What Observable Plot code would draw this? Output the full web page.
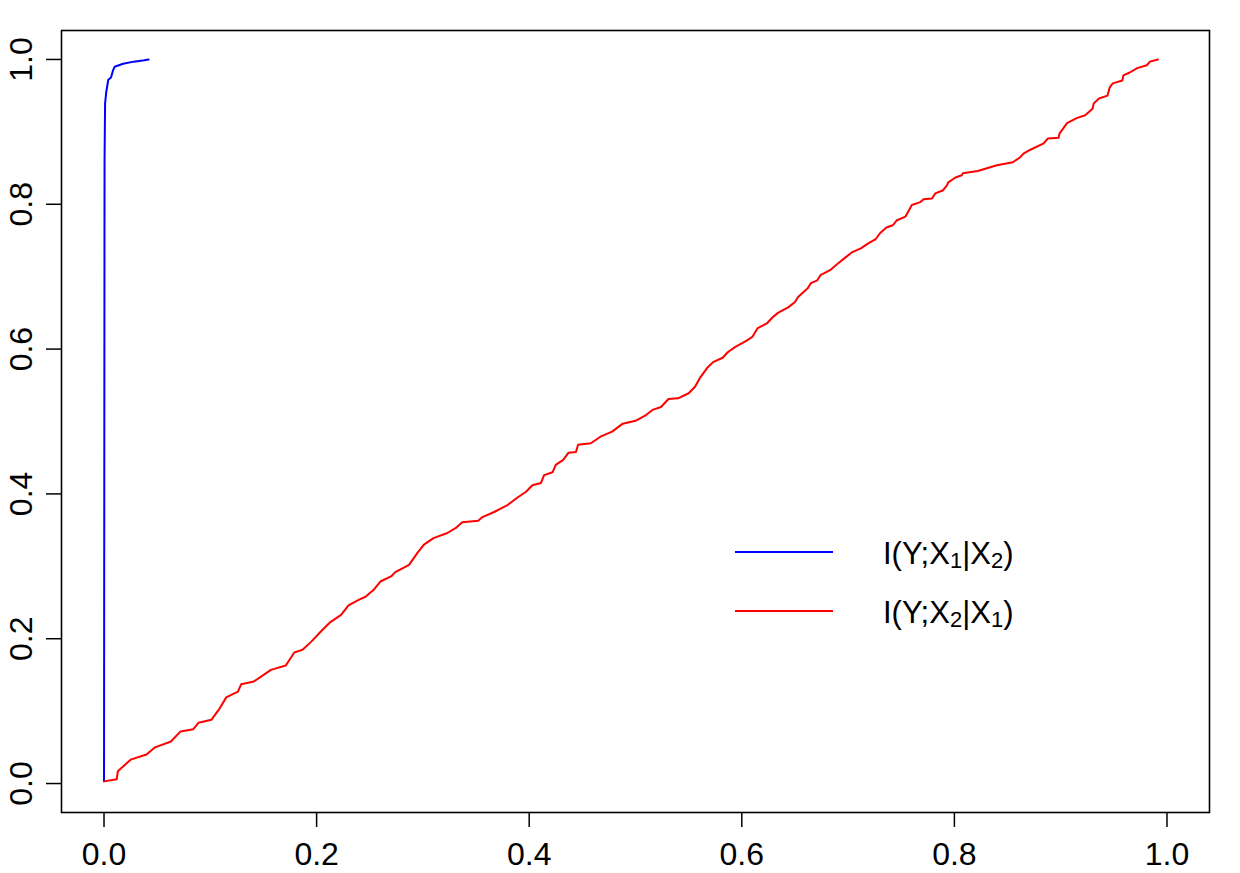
<!DOCTYPE html>
<html><head><meta charset="utf-8">
<script src="https://cdn.jsdelivr.net/npm/d3@7"></script>
<script src="https://cdn.jsdelivr.net/npm/@observablehq/plot@0.6"></script>
<style>html,body{margin:0;padding:0;background:#fff;}</style>
</head><body><div id="chart"></div>
<script>
// Blue series: I(Y;X1|X2)
const blueX = [0.000, 0.0005, 0.001, 0.002, 0.004, 0.0066, 0.0085, 0.010, 0.018, 0.028, 0.038, 0.042];
const blueY = [0.003, 0.861, 0.939, 0.954, 0.972, 0.975, 0.985, 0.990, 0.994, 0.997, 0.999, 1.000];

// Red series: I(Y;X2|X1)
const redX = [0.000, 0.012, 0.013, 0.019, 0.025, 0.040, 0.048, 0.063, 0.072, 0.084, 0.089, 0.101, 0.108, 0.115, 0.126, 0.129, 0.141, 0.157, 0.171, 0.179, 0.187, 0.195, 0.204, 0.213, 0.223, 0.230, 0.240, 0.246, 0.254, 0.260, 0.270, 0.274, 0.287, 0.295, 0.301, 0.310, 0.323, 0.331, 0.337, 0.352, 0.356, 0.367, 0.380, 0.389, 0.397, 0.403, 0.411, 0.414, 0.422, 0.425, 0.432, 0.437, 0.444, 0.446, 0.458, 0.467, 0.478, 0.488, 0.500, 0.509, 0.516, 0.524, 0.531, 0.540, 0.550, 0.556, 0.561, 0.568, 0.573, 0.582, 0.587, 0.594, 0.605, 0.610, 0.615, 0.624, 0.629, 0.634, 0.644, 0.650, 0.653, 0.662, 0.665, 0.671, 0.674, 0.683, 0.691, 0.697, 0.704, 0.712, 0.719, 0.726, 0.730, 0.736, 0.742, 0.746, 0.754, 0.760, 0.768, 0.771, 0.779, 0.782, 0.789, 0.793, 0.794, 0.801, 0.807, 0.808, 0.822, 0.840, 0.855, 0.862, 0.865, 0.871, 0.884, 0.888, 0.898, 0.899, 0.906, 0.915, 0.923, 0.930, 0.931, 0.936, 0.944, 0.946, 0.949, 0.958, 0.959, 0.965, 0.972, 0.981, 0.984, 0.9915];
const redY = [0.003, 0.006, 0.017, 0.025, 0.033, 0.040, 0.050, 0.058, 0.072, 0.075, 0.084, 0.088, 0.102, 0.119, 0.127, 0.137, 0.141, 0.157, 0.163, 0.181, 0.185, 0.196, 0.210, 0.223, 0.233, 0.246, 0.254, 0.258, 0.268, 0.279, 0.286, 0.292, 0.302, 0.319, 0.330, 0.339, 0.346, 0.353, 0.361, 0.363, 0.368, 0.375, 0.385, 0.395, 0.403, 0.412, 0.415, 0.426, 0.430, 0.440, 0.447, 0.457, 0.458, 0.468, 0.470, 0.479, 0.486, 0.497, 0.501, 0.508, 0.516, 0.520, 0.531, 0.532, 0.539, 0.548, 0.561, 0.575, 0.582, 0.588, 0.596, 0.603, 0.612, 0.617, 0.629, 0.636, 0.644, 0.650, 0.658, 0.665, 0.672, 0.684, 0.691, 0.695, 0.702, 0.709, 0.719, 0.726, 0.734, 0.739, 0.746, 0.752, 0.760, 0.768, 0.771, 0.778, 0.783, 0.799, 0.803, 0.807, 0.808, 0.815, 0.819, 0.826, 0.830, 0.837, 0.840, 0.843, 0.846, 0.854, 0.858, 0.865, 0.870, 0.875, 0.884, 0.891, 0.892, 0.898, 0.912, 0.919, 0.923, 0.932, 0.939, 0.946, 0.950, 0.961, 0.967, 0.971, 0.978, 0.982, 0.988, 0.992, 0.997, 1.000];

const xTicks = [0.0, 0.2, 0.4, 0.6, 0.8, 1.0];
const yTicks = [0.0, 0.2, 0.4, 0.6, 0.8, 1.0];
const seriesColors = ["#0000ff", "#ff0000"];
// legend labels: [main, sub, "|X", sub, ")"]
const legendParts = [["I(Y;X", "1", "|X", "2", ")"], ["I(Y;X", "2", "|X", "1", ")"]];

const blue = blueX.map((x, i) => ({x, y: blueY[i]}));
const red = redX.map((x, i) => ({x, y: redY[i]}));

const FONT = "'Liberation Sans', Arial, Helvetica, sans-serif";

const svg = Plot.plot({
  width: 1240, height: 873,
  marginLeft: 61, marginRight: 31, marginTop: 30, marginBottom: 61,
  x: {domain: [-0.04, 1.04]},
  y: {domain: [-0.04, 1.04]},
  style: {fontFamily: FONT, fontSize: "32px", color: "#000", background: "#fff", overflow: "visible"},
  marks: [
    Plot.frame({stroke: "#000", strokeWidth: 1.6}),
    Plot.axisX({ticks: xTicks, tickSize: 15, tickPadding: 15, tickFormat: d => d.toFixed(1), label: null, strokeWidth: 1.5, fontSize: 32, fill: "#000"}),
    Plot.axisY({ticks: yTicks, tickSize: 15, tickFormat: () => "", label: null, strokeWidth: 1.5}),
    Plot.text(yTicks, {y: d => d, frameAnchor: "left", dx: -30, rotate: -90, text: d => d.toFixed(1), textAnchor: "middle", lineAnchor: "bottom", fontSize: 32, fill: "#000"}),
    Plot.line(blue, {x: "x", y: "y", stroke: seriesColors[0], strokeWidth: 2}),
    Plot.line(red, {x: "x", y: "y", stroke: seriesColors[1], strokeWidth: 2})
  ]
});

// Legend
const g = d3.select(svg).append("g").attr("font-family", FONT).attr("fill", "#000").attr("text-anchor", "start");
const lineYs = [552, 611];
legendParts.forEach((parts, i) => {
  g.append("line").attr("x1", 735).attr("x2", 833).attr("y1", lineYs[i]).attr("y2", lineYs[i])
    .attr("stroke", seriesColors[i]).attr("stroke-width", 2);
  const t = g.append("text").attr("x", 883).attr("y", lineYs[i] + 12).attr("font-size", 31).attr("text-anchor", "start");
  t.append("tspan").text(parts[0]);
  t.append("tspan").attr("font-size", 22).attr("dy", 4).text(parts[1]);
  t.append("tspan").attr("dy", -4).text(parts[2]);
  t.append("tspan").attr("font-size", 22).attr("dy", 4).text(parts[3]);
  t.append("tspan").attr("dy", -4).text(parts[4]);
});

document.getElementById("chart").appendChild(svg);
</script>
</body></html>
